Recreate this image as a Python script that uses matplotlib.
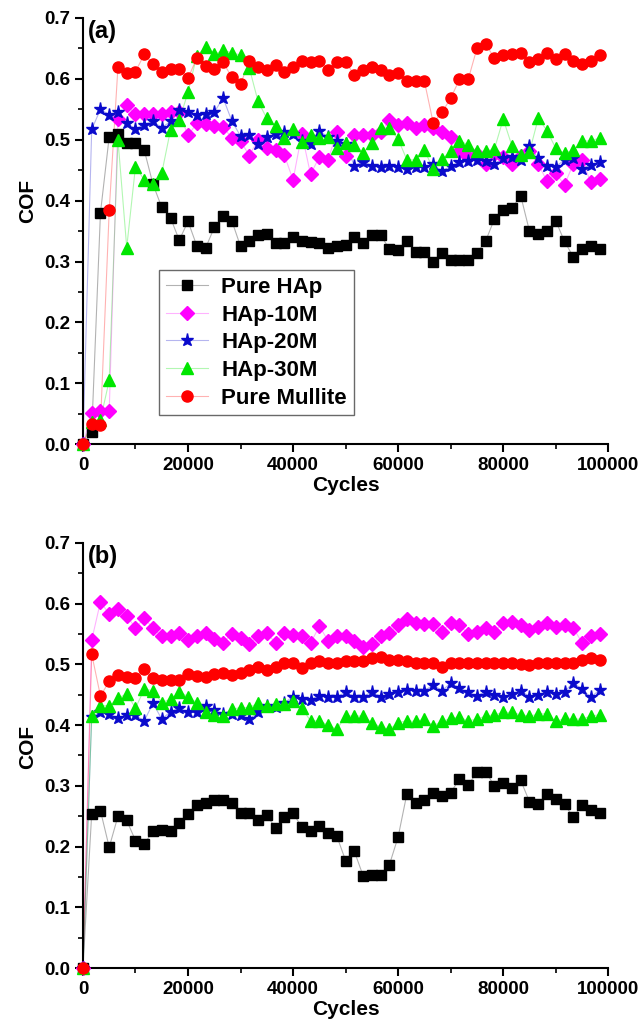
# COF vs cycles, two panels (a) and (b)
import numpy as np
import matplotlib
matplotlib.use("Agg")
from matplotlib import pyplot as plt
from matplotlib.ticker import MultipleLocator
from matplotlib.lines import Line2D
from matplotlib.colors import to_rgba

plt.rcParams['font.family'] = ['Liberation Sans', 'DejaVu Sans']
plt.rcParams['font.weight'] = 'bold'

# sampling points (cycles), 60 readings over 100000 cycles
cycles = np.arange(60) * 100000 / 60

names = ["Pure HAp", "HAp-10M", "HAp-20M", "HAp-30M", "Pure Mullite"]

# ---- panel (a) ----
hap_a = [0.0, 0.02, 0.38, 0.505, 0.51, 0.495, 0.495, 0.483, 0.427, 0.389,
         0.372, 0.335, 0.366, 0.326, 0.322, 0.356, 0.374, 0.367, 0.325, 0.333,
         0.343, 0.345, 0.331, 0.331, 0.340, 0.333, 0.332, 0.330, 0.323, 0.326,
         0.328, 0.340, 0.330, 0.343, 0.343, 0.321, 0.319, 0.333, 0.316, 0.316,
         0.299, 0.314, 0.302, 0.302, 0.303, 0.314, 0.334, 0.370, 0.385, 0.388,
         0.408, 0.350, 0.345, 0.350, 0.367, 0.333, 0.308, 0.321, 0.326, 0.321]
m10_a = [0.0, 0.052, 0.054, 0.054, 0.534, 0.557, 0.542, 0.542, 0.542, 0.542,
         0.545, 0.545, 0.507, 0.527, 0.526, 0.523, 0.521, 0.503, 0.498, 0.474,
         0.500, 0.487, 0.483, 0.475, 0.434, 0.510, 0.443, 0.472, 0.467, 0.512,
         0.474, 0.508, 0.508, 0.508, 0.512, 0.532, 0.525, 0.527, 0.520, 0.525,
         0.520, 0.512, 0.505, 0.481, 0.472, 0.477, 0.461, 0.477, 0.472, 0.461,
         0.474, 0.481, 0.460, 0.432, 0.445, 0.426, 0.460, 0.467, 0.430, 0.436]
m20_a = [0.0, 0.517, 0.550, 0.541, 0.546, 0.528, 0.517, 0.525, 0.530, 0.520,
         0.530, 0.549, 0.545, 0.540, 0.542, 0.545, 0.569, 0.531, 0.506, 0.507,
         0.493, 0.504, 0.509, 0.512, 0.510, 0.498, 0.493, 0.514, 0.505, 0.498,
         0.493, 0.457, 0.464, 0.457, 0.455, 0.457, 0.455, 0.452, 0.455, 0.455,
         0.460, 0.448, 0.457, 0.463, 0.465, 0.467, 0.465, 0.460, 0.470, 0.471,
         0.467, 0.490, 0.470, 0.457, 0.456, 0.467, 0.470, 0.452, 0.459, 0.463]
m30_a = [0.0, 0.037, 0.040, 0.105, 0.50, 0.323, 0.456, 0.434, 0.427, 0.445,
         0.516, 0.532, 0.578, 0.638, 0.652, 0.640, 0.647, 0.643, 0.639, 0.618,
         0.563, 0.535, 0.523, 0.503, 0.517, 0.496, 0.508, 0.503, 0.505, 0.487,
         0.495, 0.492, 0.479, 0.494, 0.520, 0.519, 0.501, 0.467, 0.467, 0.483,
         0.452, 0.468, 0.481, 0.498, 0.492, 0.481, 0.481, 0.485, 0.534, 0.490,
         0.475, 0.480, 0.535, 0.515, 0.486, 0.478, 0.483, 0.498, 0.498, 0.503]
mul_a = [0.0, 0.034, 0.032, 0.384, 0.620, 0.609, 0.612, 0.640, 0.625, 0.612,
         0.617, 0.617, 0.601, 0.634, 0.621, 0.616, 0.627, 0.603, 0.591, 0.630,
         0.620, 0.614, 0.623, 0.612, 0.620, 0.630, 0.627, 0.630, 0.614, 0.627,
         0.627, 0.607, 0.614, 0.620, 0.614, 0.607, 0.610, 0.596, 0.596, 0.596,
         0.528, 0.545, 0.568, 0.599, 0.599, 0.650, 0.657, 0.634, 0.639, 0.641,
         0.643, 0.627, 0.632, 0.643, 0.632, 0.641, 0.630, 0.625, 0.630, 0.639]

# ---- panel (b) ----
hap_b = [0.0, 0.254, 0.259, 0.199, 0.250, 0.243, 0.210, 0.204, 0.226, 0.227,
         0.226, 0.239, 0.254, 0.269, 0.272, 0.276, 0.276, 0.271, 0.256, 0.256,
         0.244, 0.252, 0.230, 0.249, 0.255, 0.232, 0.225, 0.234, 0.223, 0.217,
         0.177, 0.192, 0.152, 0.153, 0.153, 0.170, 0.216, 0.287, 0.272, 0.277,
         0.289, 0.283, 0.289, 0.311, 0.301, 0.323, 0.323, 0.300, 0.304, 0.296,
         0.309, 0.274, 0.270, 0.287, 0.278, 0.270, 0.248, 0.269, 0.261, 0.255]
m10_b = [0.0, 0.540, 0.603, 0.583, 0.592, 0.580, 0.560, 0.576, 0.560, 0.546,
         0.547, 0.551, 0.540, 0.547, 0.551, 0.542, 0.536, 0.550, 0.543, 0.534,
         0.546, 0.551, 0.536, 0.552, 0.549, 0.547, 0.535, 0.563, 0.539, 0.547,
         0.546, 0.539, 0.528, 0.534, 0.546, 0.552, 0.565, 0.574, 0.569, 0.567,
         0.567, 0.554, 0.569, 0.565, 0.550, 0.554, 0.560, 0.554, 0.569, 0.570,
         0.565, 0.556, 0.562, 0.569, 0.561, 0.565, 0.560, 0.536, 0.547, 0.550]
m20_b = [0.0, 0.414, 0.421, 0.419, 0.411, 0.416, 0.416, 0.407, 0.436, 0.410,
         0.422, 0.428, 0.421, 0.422, 0.431, 0.425, 0.418, 0.418, 0.417, 0.410,
         0.421, 0.432, 0.430, 0.437, 0.447, 0.443, 0.442, 0.448, 0.446, 0.447,
         0.454, 0.447, 0.447, 0.455, 0.447, 0.451, 0.455, 0.458, 0.457, 0.457,
         0.466, 0.457, 0.469, 0.461, 0.454, 0.448, 0.455, 0.450, 0.446, 0.451,
         0.457, 0.447, 0.450, 0.455, 0.451, 0.455, 0.470, 0.459, 0.446, 0.458]
m30_b = [0.0, 0.415, 0.432, 0.432, 0.444, 0.452, 0.428, 0.459, 0.457, 0.437,
         0.443, 0.455, 0.447, 0.437, 0.421, 0.417, 0.415, 0.426, 0.429, 0.429,
         0.436, 0.432, 0.435, 0.435, 0.439, 0.428, 0.407, 0.407, 0.400, 0.393,
         0.415, 0.415, 0.415, 0.404, 0.397, 0.393, 0.404, 0.407, 0.406, 0.410,
         0.399, 0.406, 0.411, 0.413, 0.407, 0.410, 0.415, 0.417, 0.421, 0.421,
         0.417, 0.415, 0.418, 0.419, 0.406, 0.411, 0.410, 0.410, 0.415, 0.417]
mul_b = [0.0, 0.517, 0.448, 0.472, 0.483, 0.480, 0.477, 0.492, 0.477, 0.474,
         0.475, 0.474, 0.485, 0.481, 0.480, 0.485, 0.486, 0.483, 0.486, 0.490,
         0.496, 0.490, 0.496, 0.502, 0.503, 0.494, 0.502, 0.505, 0.503, 0.503,
         0.505, 0.506, 0.506, 0.510, 0.513, 0.507, 0.507, 0.505, 0.503, 0.503,
         0.502, 0.495, 0.502, 0.502, 0.502, 0.502, 0.503, 0.503, 0.502, 0.502,
         0.501, 0.499, 0.502, 0.503, 0.502, 0.502, 0.503, 0.507, 0.510, 0.507]

colors = ['#000000', '#ff00ff', '#0a0acc', '#00e600', '#ff0000']
markers = ['s', 'D', '*', '^', 'o']
msizes = [7, 7, 9.5, 8, 8]


def draw_panel(ax, series, tag, legend=False):
    handles = []
    for ys, name, c, m, ms in zip(series, names, colors, markers, msizes):
        ax.plot(cycles, ys, color=c, alpha=0.3, lw=0.8, zorder=2, clip_on=False)
        ax.plot(cycles, ys, ls='none', marker=m, ms=ms, color=c, mec=c,
                zorder=3, clip_on=False)
        handles.append(Line2D([], [], color=to_rgba(c, 0.3), lw=0.8, marker=m,
                              ms=ms, mfc=c, mec=c, label=name))
    ax.set_xlim(0, 100000)
    ax.set_ylim(0, 0.7)
    ax.xaxis.set_major_locator(MultipleLocator(20000))
    ax.xaxis.set_minor_locator(MultipleLocator(10000))
    ax.yaxis.set_major_locator(MultipleLocator(0.1))
    ax.yaxis.set_minor_locator(MultipleLocator(0.05))
    ax.yaxis.set_major_formatter(lambda v, p: f'{v:.1f}')
    ax.spines['top'].set_visible(False)
    ax.spines['right'].set_visible(False)
    ax.spines['left'].set_linewidth(1.5)
    ax.spines['bottom'].set_linewidth(1.5)
    ax.tick_params(which='major', direction='out', length=6, width=1.5, labelsize=13.5)
    ax.tick_params(which='minor', direction='out', length=3.5, width=1.2)
    for lab in ax.get_xticklabels() + ax.get_yticklabels():
        lab.set_fontweight('bold')
    ax.set_xlabel('Cycles', fontsize=15, fontweight='bold', labelpad=1)
    ax.set_ylabel('COF', fontsize=15, fontweight='bold')
    ax.text(0.01, 0.995, tag, transform=ax.transAxes, fontsize=17,
            fontweight='bold', va='top', ha='left')
    if legend:
        ax.legend(handles=handles, loc='lower left', bbox_to_anchor=(0.145, 0.068),
                  borderaxespad=0, frameon=True, fancybox=False,
                  edgecolor='#444444', handlelength=1.9, labelspacing=0.3,
                  borderpad=0.3, handletextpad=0.6,
                  prop={'weight': 'bold', 'size': 16})


fig = plt.figure(figsize=(6.43, 10.26), dpi=100)
ax1 = fig.add_axes([0.129, 0.567, 0.817, 0.4155])
ax2 = fig.add_axes([0.129, 0.0565, 0.817, 0.4143])

draw_panel(ax1, [hap_a, m10_a, m20_a, m30_a, mul_a], '(a)', legend=True)
draw_panel(ax2, [hap_b, m10_b, m20_b, m30_b, mul_b], '(b)')
ax1.yaxis.set_label_coords(-0.088, 0.57)
ax2.yaxis.set_label_coords(-0.088, 0.52)

fig.savefig('out.png', dpi=100)
